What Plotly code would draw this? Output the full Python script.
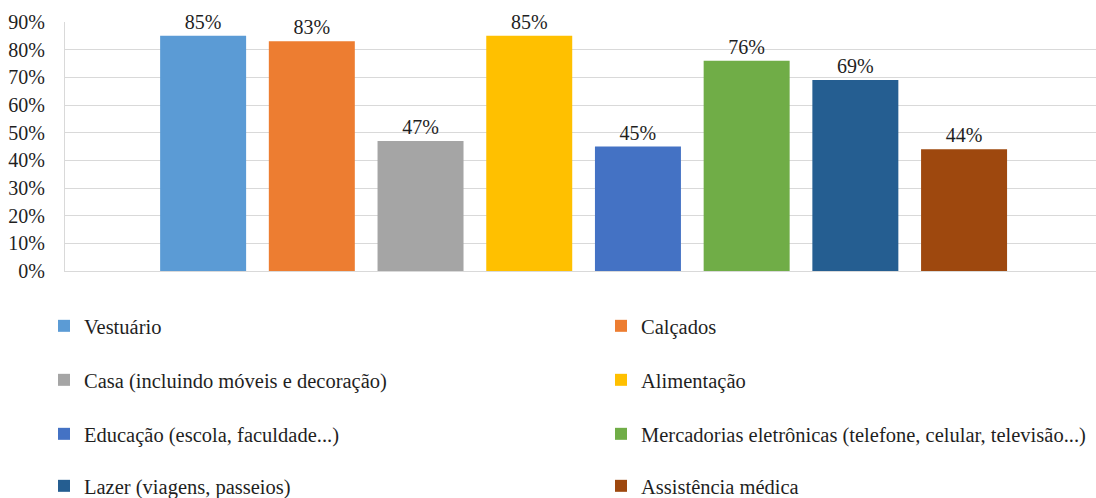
import plotly.graph_objects as go

categories = ["Vestuário", "Calçados", "Casa (incluindo móveis e decoração)", "Alimentação",
              "Educação (escola, faculdade...)", "Mercadorias eletrônicas (telefone, celular, televisão...)",
              "Lazer (viagens, passeios)", "Assistência médica"]
values = [0.85, 0.83, 0.47, 0.85, 0.45, 0.76, 0.69, 0.44]
colors = ["#5B9BD5", "#ED7D31", "#A5A5A5", "#FFC000", "#4472C4", "#70AD47", "#255E91", "#9E480E"]
tick_vals = [i / 10 for i in range(10)]
tick_text = [f"{i * 10}%" for i in range(10)]

FONT = "Liberation Serif"
FS = 20
LFS = 20.5
TXT = "#1f1f1f"
W, H = 1096, 498

row_y = [326, 380, 434, 486]
col_x = [44, 601]

fig = go.Figure()
legends = {}
for i, (name, v, c) in enumerate(zip(categories, values, colors)):
    lname = "legend" if i == 0 else f"legend{i + 1}"
    fig.add_trace(go.Bar(
        x=[0], y=[v], name=name, marker=dict(color=c, line=dict(width=0)),
        text=[f"{round(v * 100)}%"], textposition="outside", cliponaxis=False,
        textfont=dict(family=FONT, size=FS, color=TXT),
        legend=lname,
    ))
    legends[lname] = dict(
        orientation="h", xref="container", yref="container",
        x=col_x[i % 2] / W, y=1 - row_y[i // 2] / H, xanchor="left", yanchor="middle",
        itemwidth=30,
        font=dict(family=FONT, size=LFS, color=TXT),
        bgcolor="rgba(0,0,0,0)", borderwidth=0,
        itemclick=False, itemdoubleclick=False,
    )

fig.update_layout(
    width=W, height=H,
    margin=dict(l=65, r=0, t=22, b=227, pad=0),
    paper_bgcolor="white", plot_bgcolor="white",
    barmode="group", bargap=0.1565, bargroupgap=0.209,
    showlegend=True,
    font=dict(family=FONT, size=FS, color=TXT),
    xaxis=dict(range=[-0.503, 0.497], showticklabels=False, showgrid=False, showline=True,
               linecolor="#d9d9d9", linewidth=1, zeroline=False, ticks="", fixedrange=True),
    yaxis=dict(range=[0, 0.9], tickvals=tick_vals, ticktext=tick_text,
               showgrid=True, gridcolor="#d9d9d9", gridwidth=1,
               showline=True, linecolor="#d9d9d9", linewidth=1, zeroline=False,
               ticks="", ticklabelstandoff=15,
               tickfont=dict(family=FONT, size=FS, color=TXT), fixedrange=True),
    **legends,
)

fig.write_html("out.html")
